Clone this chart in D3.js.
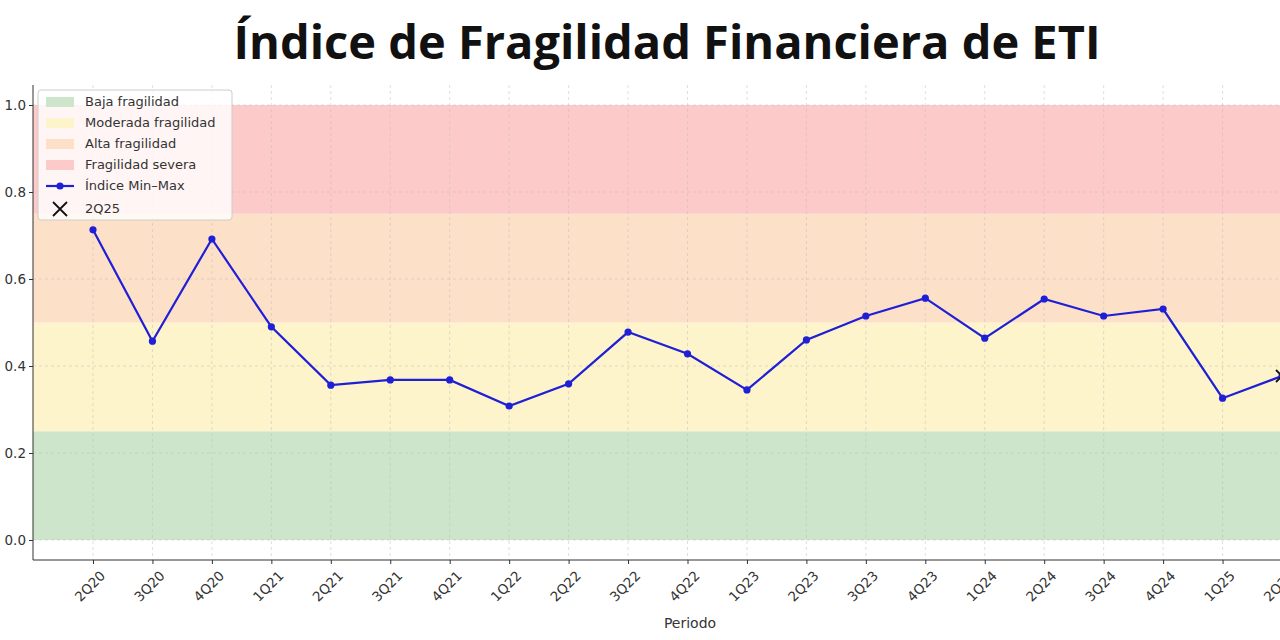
<!DOCTYPE html>
<html><head><meta charset="utf-8">
<script src="https://cdn.jsdelivr.net/npm/d3@7"></script>
<style>body{margin:0;background:#fff}svg{display:block}</style></head>
<body><svg id="c" width="1280" height="640"></svg>
<script>
const periods=["2Q20","3Q20","4Q20","1Q21","2Q21","3Q21","4Q21","1Q22","2Q22","3Q22","4Q22","1Q23","2Q23","3Q23","4Q23","1Q24","2Q24","3Q24","4Q24","1Q25","2Q25"];
const values=[0.713,0.457,0.692,0.490,0.356,0.368,0.368,0.308,0.359,0.478,0.428,0.345,0.460,0.515,0.556,0.464,0.554,0.515,0.531,0.326,0.377];
const bandNames=["Baja fragilidad","Moderada fragilidad","Alta fragilidad","Fragilidad severa"];
const bandLo=[0,0.25,0.5,0.75];
const bandHi=[0.25,0.5,0.75,1.0];
const bandColors=["#cde5cb","#fdf4cb","#fde0c8","#fdcaca"];
const yTicks=[0,0.2,0.4,0.6,0.8,1.0];

const svg=d3.select("#c");
const L=33,R=1340,T=85,B=560;
const x=d3.scalePoint().domain(periods).range([93,93+59.45*20]);
const y=d3.scaleLinear().domain([0,1]).range([540,105]);
const font="DejaVu Sans, sans-serif";

svg.append("text").attr("x",667).attr("y",59).attr("text-anchor","middle")
 .attr("font-family","Open Sans, DejaVu Sans, sans-serif").attr("font-weight",700).attr("font-size",47).attr("fill","#111")
 .text("Índice de Fragilidad Financiera de ETI");

svg.append("clipPath").attr("id","pc").append("rect").attr("x",L).attr("y",T).attr("width",R-L).attr("height",B-T);
const g=svg.append("g").attr("clip-path","url(#pc)");
g.selectAll("rect.b").data(bandLo).join("rect").attr("x",L).attr("width",R-L)
 .attr("y",(d,i)=>y(bandHi[i])).attr("height",(d,i)=>y(bandLo[i])-y(bandHi[i])).attr("fill",(d,i)=>bandColors[i]);
g.selectAll("line.gx").data(periods).join("line").attr("x1",d=>x(d)).attr("x2",d=>x(d)).attr("y1",T).attr("y2",B)
 .attr("stroke","#bbb").attr("stroke-opacity",0.6).attr("stroke-dasharray","3,3").attr("stroke-width",0.8);
g.selectAll("line.gy").data(yTicks).join("line").attr("x1",L).attr("x2",R).attr("y1",d=>y(d)).attr("y2",d=>y(d))
 .attr("stroke","#bbb").attr("stroke-opacity",0.6).attr("stroke-dasharray","3,3").attr("stroke-width",0.8);
const line=d3.line().x((d,i)=>x(periods[i])).y(d=>y(d));
g.append("path").attr("d",line(values)).attr("fill","none").attr("stroke","#1f1fd6").attr("stroke-width",2.2);
g.selectAll("circle").data(values).join("circle").attr("cx",(d,i)=>x(periods[i])).attr("cy",d=>y(d)).attr("r",3.6).attr("fill","#1f1fd6");
const lx=x("2Q25"),ly=y(values[20]);
g.append("path").attr("d",`M${lx-6},${ly-6}L${lx+6},${ly+6}M${lx-6},${ly+6}L${lx+6},${ly-6}`).attr("stroke","#111").attr("stroke-width",1.8);

const ya=svg.append("g").attr("transform",`translate(${L},0)`).call(d3.axisLeft(y).tickValues(yTicks).tickFormat(d3.format(".1f")).tickSize(4));
ya.select(".domain").attr("d",`M0,${T}V${B}`);
const xa=svg.append("g").attr("transform",`translate(0,${B})`).call(d3.axisBottom(x).tickSize(4));
xa.select(".domain").attr("d",`M${L},0H1280`);
[ya,xa].forEach(a=>{a.selectAll("text").attr("font-family",font).attr("font-size",13.5).attr("fill","#333");a.selectAll("line,path").attr("stroke","#333");});
xa.selectAll("text").attr("text-anchor","end").attr("transform","translate(2,6) rotate(-45)").attr("dy","0.6em").attr("dx","0");
svg.append("text").attr("x",690).attr("y",628).attr("text-anchor","middle").attr("font-family",font).attr("font-size",14).attr("fill","#333").text("Periodo");

const lg=svg.append("g").attr("transform","translate(38,90)");
lg.append("rect").attr("width",194).attr("height",130).attr("rx",3).attr("fill","#fff").attr("fill-opacity",0.8).attr("stroke","#ccc");
bandNames.forEach((n,i)=>{
 const yy=12+i*21;
 lg.append("rect").attr("x",8).attr("y",yy-5).attr("width",28).attr("height",10).attr("fill",bandColors[i]);
 lg.append("text").attr("x",47).attr("y",yy+4).attr("font-family",font).attr("font-size",13).attr("fill","#333").text(n);
});
let yy=12+4*21;
lg.append("line").attr("x1",8).attr("x2",36).attr("y1",yy).attr("y2",yy).attr("stroke","#1f1fd6").attr("stroke-width",2.2);
lg.append("circle").attr("cx",22).attr("cy",yy).attr("r",3.6).attr("fill","#1f1fd6");
lg.append("text").attr("x",47).attr("y",yy+4).attr("font-family",font).attr("font-size",13).attr("fill","#333").text("Índice Min–Max");
yy=12+5*21+2;
lg.append("path").attr("d",`M${22-7},${yy-7}L${22+7},${yy+7}M${22-7},${yy+7}L${22+7},${yy-7}`).attr("stroke","#111").attr("stroke-width",1.8);
lg.append("text").attr("x",47).attr("y",yy+4).attr("font-family",font).attr("font-size",13).attr("fill","#333").text("2Q25");
</script></body></html>
